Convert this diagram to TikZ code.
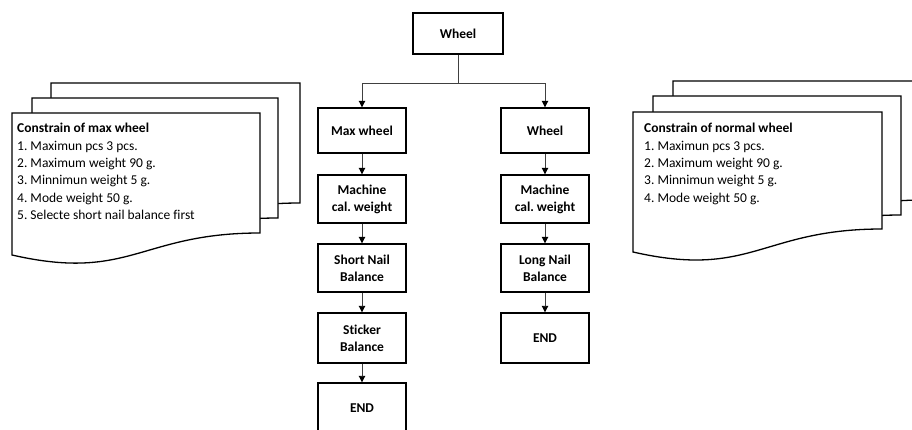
\documentclass[tikz,border=0pt]{standalone}
\usepackage{fontspec}
\setmainfont{Carlito}[Ligatures=NoCommon]
\usetikzlibrary{arrows.meta}
\frenchspacing
% multi-page document sheet: left, top, right, right-bottom y, left-bottom y
\newcommand\docpage[5]{%
  \draw[page] (#1,#2) -- (#3,#2) -- (#3,#4)
    .. controls ({(#1+#3)/2+4},#4) and ({(#1+#3)/2-6},#5+27) .. (#1,#5) -- cycle;}
\begin{document}
\begin{tikzpicture}[x=1pt,y=-1pt,
  box/.style={draw=black, line width=1.4pt, fill=white, align=center,
    font=\bfseries\fontsize{13.5}{17}\selectfont, inner sep=0pt,
    minimum width=88pt},
  flow/.style={draw=black!75, line width=0.9pt,
    -{Triangle[width=6.5pt,length=6.5pt,color=black]}},
  link/.style={draw=black!75, line width=0.9pt},
  page/.style={draw=black, line width=1.3pt, fill=white, line join=miter},
  note/.style={anchor=north west, align=left, inner sep=0pt,
    font=\fontsize{13.5}{17.4}\selectfont}]
\useasboundingbox (0,0) rectangle (912,430);
\clip (0,0) rectangle (912,430);

% left stack of constraint sheets
\docpage{51}{83}{300}{203}{225}
\docpage{32}{98}{278}{218}{240}
\docpage{12}{113}{260}{233}{255}
\node[note] (maxnote) at (17,123) {\textbf{Constrain of max wheel}\\
  1. Maximun pcs 3 pcs.\\
  2. Maximum weight 90 g.\\
  3. Minnimun weight 5 g.\\
  4. Mode weight 50 g.\\
  5. Selecte short nail balance first};

% right stack of constraint sheets
\docpage{673}{81}{925}{200}{222}
\docpage{653}{96}{901}{215}{237}
\docpage{633}{112}{882}{229}{252}
\node[note] (normnote) at (644,123) {\textbf{Constrain of normal wheel}\\
  1. Maximun pcs 3 pcs.\\
  2. Maximum weight 90 g.\\
  3. Minnimun weight 5 g.\\
  4. Mode weight 50 g.};

% flow chart
\node[box, minimum width=90pt, minimum height=41pt] (top) at (458,33.5) {Wheel};

\node[box, minimum height=45pt] (maxw) at (362,130.5) {Max wheel};
\node[box, minimum height=48pt] (mcalA) at (362,199) {Machine\\cal. weight};
\node[box, minimum height=48pt] (snail) at (362,268) {Short Nail\\Balance};
\node[box, minimum height=50pt] (stick) at (362,338) {Sticker\\Balance};
\node[box, minimum height=50pt] (endA) at (362,408) {END};

\node[box, minimum height=45pt] (norw) at (545,130.5) {Wheel};
\node[box, minimum height=48pt] (mcalB) at (545,199) {Machine\\cal. weight};
\node[box, minimum height=48pt] (lnail) at (545,268) {Long Nail\\Balance};
\node[box, minimum height=50pt] (endB) at (545,338) {END};

\coordinate (split) at (458,83);
\draw[link] (top.south) -- (split);
\draw[flow] (split) -| (maxw.north);
\draw[flow] (split) -| (norw.north);

\draw[flow] (maxw) -- (mcalA);
\draw[flow] (mcalA) -- (snail);
\draw[flow] (snail) -- (stick);
\draw[flow] (stick) -- (endA);

\draw[flow] (norw) -- (mcalB);
\draw[flow] (mcalB) -- (lnail);
\draw[flow] (lnail) -- (endB);
\end{tikzpicture}
\end{document}
